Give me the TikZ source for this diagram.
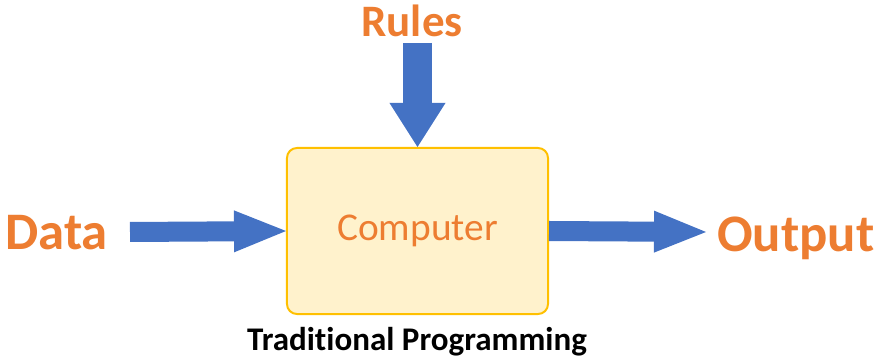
\documentclass[tikz,border=0pt]{standalone}
\usepackage{fontspec}
\setmainfont{Carlito}[Ligatures={NoCommon}]
\usepackage{xcolor}
\usepackage{tikz}
\usetikzlibrary{arrows.meta, positioning}

\definecolor{txtorange}{HTML}{ED7D31}
\definecolor{flowblue}{HTML}{4472C4}
\definecolor{boxgold}{HTML}{FFC000}
\definecolor{boxfill}{HTML}{FFF2CC}

\begin{document}
\begin{tikzpicture}[
        x=0.025cm, y=-0.025cm,
        term/.style={text=txtorange, font=\bfseries\fontsize{37.5}{45}\selectfont, inner sep=0pt},
        box/.style={rectangle, rounded corners=0.25cm, draw=boxgold, line width=1.4pt, fill=boxfill, minimum width=6.525cm, minimum height=4.15cm, text=txtorange, font=\fontsize{28}{34}\selectfont},
        flow/.style={-{Triangle[width=1.05cm, length=1.3cm, line width=0pt]}, line width=0.5cm, draw=flowblue},
        bigflow/.style={-{Triangle[width=1.4cm, length=1.1cm, line width=0pt]}, line width=0.725cm, draw=flowblue}
    ]
        \useasboundingbox (0,0) rectangle (883,359);

        \node[box] (computer) at (417.5,231) {Computer};
        \node[term, anchor=base west] (data) at (5,250) {Data};
        \node[term, anchor=base west] (output) at (717,252) {Output};
        \node[term, anchor=base, font=\bfseries\fontsize{32}{38}\selectfont] (rules) at (412,37) {Rules};
        \node[anchor=base, font=\bfseries\fontsize{23.5}{28}\selectfont] (caption) at (417,351) {Traditional Programming};

        \coordinate (datatail) at (130,232);
        \coordinate (rulestail) at (417.5,43);
        \coordinate (outtip) at (706,232);

        \draw[bigflow] (rulestail) -- (computer.north);
        \draw[flow] (datatail) -- (computer.west);
        \draw[flow] (computer.east) -- (outtip);
    \end{tikzpicture}
\end{document}
